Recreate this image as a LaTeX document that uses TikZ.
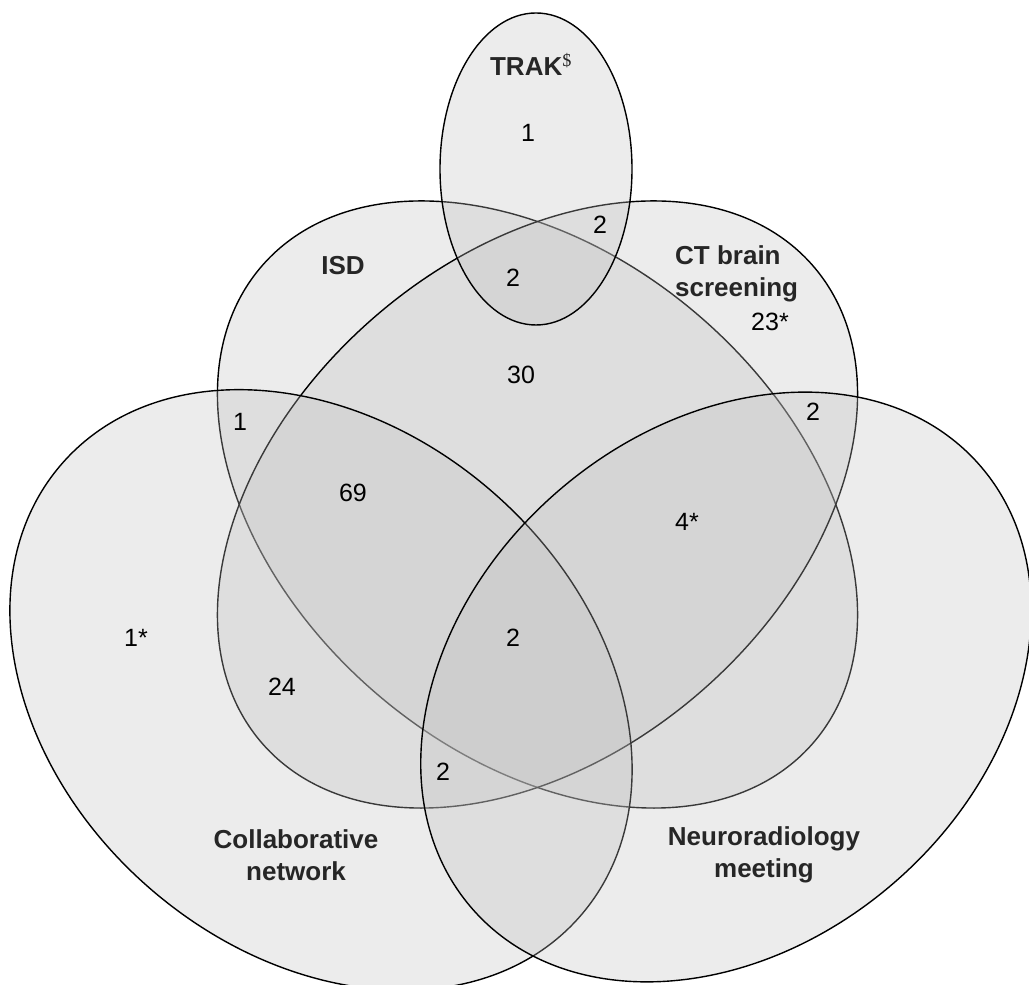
\documentclass[tikz,border=0pt]{standalone}
\usepackage{fontspec}
\setmainfont{Liberation Sans}
\begin{document}
\begin{tikzpicture}[x=1pt,y=1pt]
\tikzset{
  setarea/.style={fill=black!25, fill opacity=0.3, draw=black, line width=1.4},
  num/.style={font=\fontsize{25}{30}\selectfont, inner sep=0},
  lab/.style={font=\fontsize{26}{32}\selectfont\bfseries, text=black!85, align=center, inner sep=0},
}
\useasboundingbox (0,0) rectangle (1029,985);

% ISD
\filldraw[setarea, rotate around={-40.85:(537.5,480.5)}] (537.5,480.5) ellipse [x radius=364.5, y radius=248.4];
% CT brain screening
\filldraw[setarea, rotate around={40.85:(537.5,480.5)}] (537.5,480.5) ellipse [x radius=364.5, y radius=248.4];
% Collaborative network
\filldraw[setarea, rotate around={-41.2:(321,295)}] (321,295) ellipse [x radius=344, y radius=262];
% Neuroradiology meeting
\filldraw[setarea, rotate around={41.2:(726,298)}] (726,298) ellipse [x radius=337, y radius=258];
% TRAK
\filldraw[setarea] (536,816) ellipse [x radius=96, y radius=156];

% set names
\node[lab] (trak) at (531,921) {TRAK\textsuperscript{\fontspec{Liberation Serif}\mdseries\$}};
\node[lab] (isd) at (343,719) {ISD};
\node[lab, align=left, anchor=west] (ct) at (675,711) {CT brain\\screening};
\node[lab] (collab) at (296,130) {Collaborative\\network};
\node[lab] (neuro) at (764,130) {Neuroradiology\\meeting};

% counts
\node[num] (n1) at (528,852) {1};
\node[num] (n2) at (600,760) {2};
\node[num] (n3) at (513,707) {2};
\node[num] (n4) at (770,663) {23*};
\node[num] (n5) at (521,610) {30};
\node[num] (n6) at (240,563) {1};
\node[num] (n7) at (813,573) {2};
\node[num] (n8) at (353,492) {69};
\node[num] (n9) at (687,463) {4*};
\node[num] (n10) at (136,347) {1*};
\node[num] (n11) at (513,347) {2};
\node[num] (n12) at (282,298) {24};
\node[num] (n13) at (443,213) {2};
\end{tikzpicture}
\end{document}
